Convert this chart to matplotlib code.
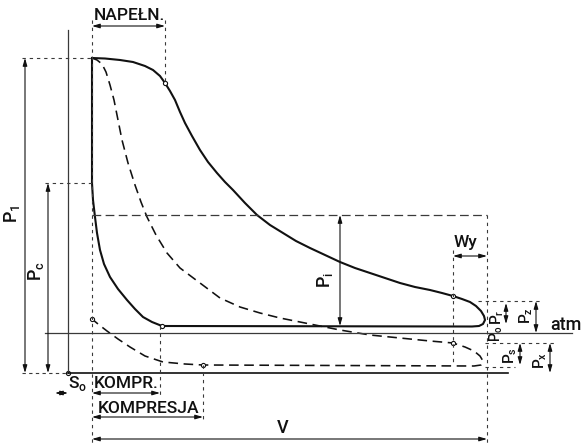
import matplotlib.pyplot as plt

# Wykres indykatorowy maszyny parowej (rysunek techniczny)
# uklad: x = objetosc (0 = os cisnien), y = cisnienie (0 = proznia)

# krzywa pelna: napelnienie, rozprezanie, wylot, kompresja
full_v = [24, 37, 52, 65, 77, 85, 92, 97, 102, 107, 112, 117, 124, 132, 140, 149, 157, 165,
          177, 189, 202, 215, 228, 242, 257, 272, 287, 302, 317, 332, 347, 362, 374, 385,
          394, 402, 408, 413, 416, 417, 415, 411, 404,
          94, 84, 75, 67, 59, 50, 42, 36, 32, 29, 27, 25, 24, 24]
full_p = [315, 314.5, 313, 311, 307, 303, 297, 290, 282, 273, 261, 250, 237, 223, 211, 200, 191, 183,
          170, 158, 148, 140, 132, 125, 118, 111, 105, 100, 95, 90, 86, 83, 80, 77,
          74, 71, 67, 62, 57, 53, 49, 47, 46.5,
          47, 51, 56, 64, 73, 84, 96, 109, 123, 140, 156, 173, 190, 315]

# krzywa przerywana (praca z kondensacja)
dash_v = [24, 29, 34, 38, 42, 46, 50, 54, 60, 67, 73, 79, 88, 99, 112, 132, 152, 172, 192,
          212, 242, 272, 302, 332, 362, 385, 397, 406, 412, 415, 413, 406,
          135, 117, 95, 77, 62, 50, 39, 30, 24]
dash_p = [315, 313, 309, 301, 288, 273, 253, 233, 210, 188, 171, 156, 138, 120, 105, 90, 75, 66, 60,
          55, 49, 43, 38, 35, 32, 30, 26, 22, 17, 12, 8, 7,
          8, 9, 11, 17, 26, 34, 42, 49, 54]

# punkty charakterystyczne
pts_v = [97, 385, 94, 135, 385, 0, 24]
pts_p = [290, 77, 47, 8, 30, 0, 54]

# poziomy i odcinki wymiarowe
p1, pc, pi_top, p_back, p_atm = 315, 190, 158, 47, 40
v0, v_cut, v_komp, v_kompr, v_wy, v_end = 24, 97, 92, 135, 385, 419

plt.rcParams['font.family'] = ['Roboto', 'DejaVu Sans']
plt.rcParams['font.weight'] = 'medium'

fig = plt.figure(figsize=(5.85, 4.44), dpi=100)
ax = fig.add_axes([0, 0, 1, 1])
ax.set_xlim(-68, 517)
ax.set_ylim(-71, 373)
ax.axis('off')

ink = '#111111'
thin = '#3a3a3a'

ax.plot(full_v, full_p, color=ink, lw=1.5, solid_joinstyle='round')
ax.plot(dash_v, dash_p, color=ink, lw=1.15, dashes=(6, 3.5))
ax.plot(pts_v, pts_p, 'o', ms=3, mfc='white', mec=ink, mew=0.8)

# osie
ax.plot([0, 0], [343, 0], color=thin, lw=0.9)
ax.plot([0, 440], [0, 0], color=ink, lw=1.2)
ax.plot([-46, 0], [0, 0], color=thin, lw=0.8, dashes=(3, 3))
ax.plot([-23, 504], [p_atm, p_atm], color=thin, lw=0.9)

# linie pomocnicze
ext = dict(color=thin, lw=0.8, dashes=(3, 3.5))
ax.plot([v0, v0], [353, -71], **ext)
ax.plot([v_cut, v_cut], [353, 290], **ext)
ax.plot([-46, v0], [p1, p1], **ext)
ax.plot([-23, v0], [pc, pc], **ext)
ax.plot([v0, v_end], [pi_top, pi_top], color=thin, lw=0.9, dashes=(7, 3.5))
ax.plot([v_end, v_end], [pi_top, -71], **ext)
ax.plot([v_wy, v_wy], [123, 8], **ext)
ax.plot([v_komp, v_komp], [p_back, -24], **ext)
ax.plot([v_kompr, v_kompr], [8, -48], **ext)
ax.plot([410, 472], [72, 72], **ext)
ax.plot([417, 488], [30, 30], **ext)
ax.plot([417, 447], [6, 6], **ext)


def dim(x1, y1, x2, y2):
    ax.annotate('', xy=(x2, y2), xytext=(x1, y1),
                arrowprops=dict(arrowstyle='<|-|>,head_length=0.45,head_width=0.13',
                                color=ink, lw=0.8, shrinkA=0, shrinkB=0))


dim(v0, 347, v_cut, 347)
dim(-43, 0, -43, p1)
dim(-20, 0, -20, pc)
dim(272, pi_top, 272, p_back)
dim(v_wy, 117, v_end, 117)
dim(-13, -20, 0, -20)
dim(v0, -20, v_komp, -20)
dim(v0, -44, v_kompr, -44)
dim(v0, -66, v_end, -66)
dim(468, 72, 468, p_atm)
dim(438, 70, 438, 49)
dim(452, 30, 452, 8)
dim(482, 30, 482, 0)

lab = dict(color=ink, ha='center', va='center')
ax.text(61, 358, 'NAPEŁN.', fontsize=12.5, **lab)
ax.text(-56, 159, 'P$_\\mathregular{1}$', fontsize=13, rotation=90, **lab)
ax.text(-32, 102, 'P$_\\mathregular{c}$', fontsize=13, rotation=90, **lab)
ax.text(257, 93, 'P$_\\mathregular{i}$', fontsize=13, rotation=90, **lab)
ax.text(397, 130, 'Wy', fontsize=12.5, **lab)
ax.text(498, 48, 'atm', fontsize=13, **lab)
ax.text(429, 56, 'P$_\\mathregular{r}$', fontsize=11, rotation=90, **lab)
ax.text(428, 39, 'P$_\\mathregular{o}$', fontsize=10, rotation=90, **lab)
ax.text(458, 57, 'P$_\\mathregular{z}$', fontsize=11, rotation=90, **lab)
ax.text(442, 17, 'P$_\\mathregular{s}$', fontsize=11, rotation=90, **lab)
ax.text(472, 13, 'P$_\\mathregular{x}$', fontsize=11, rotation=90, **lab)
ax.text(10, -10, 'S$_\\mathregular{o}$', fontsize=12.5, **lab)
ax.text(58, -10, 'KOMPR.', fontsize=12.5, **lab)
ax.text(81, -35, 'KOMPRESJA', fontsize=12.5, **lab)
ax.text(215, -55, 'V', fontsize=13, **lab)

fig.savefig('out.png', dpi=100, facecolor='white')
